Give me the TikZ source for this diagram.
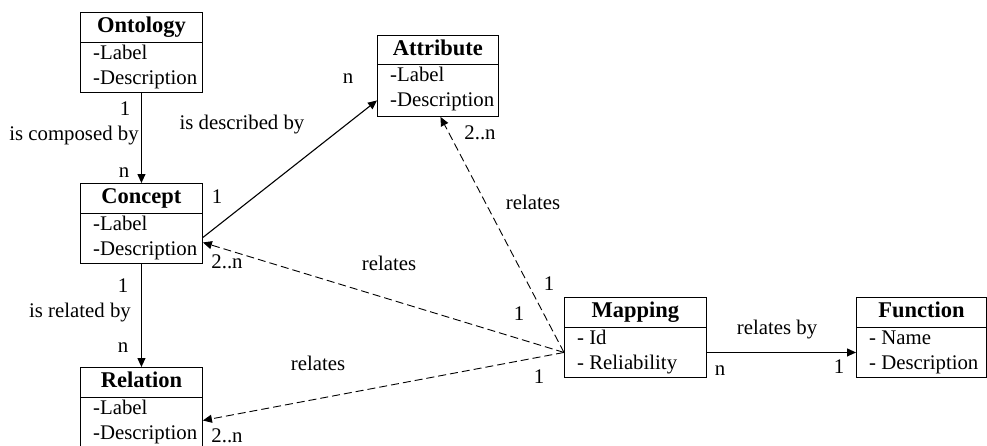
\documentclass[tikz,border=0pt]{standalone}
\usepackage{fontspec}
\setmainfont{Liberation Serif}
\usetikzlibrary{arrows.meta}
\tikzset{
  cls/.style={draw, line width=0.9pt, inner sep=0pt, anchor=north west},
  clstitle/.style={font=\fontsize{22.5}{23}\selectfont\bfseries, inner sep=0pt, text height=15pt, text depth=4pt},
  clsattr/.style={font=\fontsize{20.8}{21}\selectfont, inner sep=0pt, anchor=west, text height=14pt, text depth=4pt},
  lbl/.style={font=\fontsize{20.8}{21}\selectfont, inner sep=0pt, text height=14pt, text depth=4pt},
  assoc/.style={line width=1.1pt, -{Triangle[length=9pt,width=8pt]}},
  dep/.style={line width=0.9pt, dash pattern=on 8pt off 4pt, -{Triangle[length=9pt,width=8pt]}}
}
% name, x, y, width, height, header height, title, line1, line2
\newcommand\umlclass[9]{%
  \node[cls, minimum width=#4pt, minimum height=#5pt] (#1) at (#2,#3) {};
  \draw[line width=0.9pt] ([yshift=-#6pt]#1.north west) -- ([yshift=-#6pt]#1.north east);
  \node[clstitle] (#1-t) at ([yshift=-#6pt/2]#1.north) {#7};
  \node[clsattr] (#1-a) at ([xshift=13pt,yshift=-#6pt-12.5pt]#1.north west) {#8};
  \node[clsattr] (#1-b) at ([xshift=13pt,yshift=-#6pt-37.5pt]#1.north west) {#9};
}
\begin{document}
\begin{tikzpicture}[x=1pt,y=-1pt]
\useasboundingbox (0,0) rectangle (987,445);
\umlclass{onto}{80}{12}{122}{80}{30}{Ontology}{-Label}{-Description}
\umlclass{concept}{80}{183}{122}{80}{30}{Concept}{-Label}{-Description}
\umlclass{relation}{80}{367}{122}{80}{30}{Relation}{-Label}{-Description}
\umlclass{attribute}{377}{35}{121}{81}{29}{Attribute}{-Label}{-Description}
\umlclass{mapping}{564}{297}{142}{80}{30}{Mapping}{- Id}{- Reliability}
\umlclass{function}{856}{297}{130}{80}{30}{Function}{- Name}{- Description}

% solid associations
\draw[assoc] (onto.south) -- (concept.north);
\draw[assoc] (concept.south) -- (relation.north);
\draw[assoc] ([yshift=-14pt]concept.east) -- ([yshift=-24.5pt]attribute.west);
\draw[assoc] ([yshift=-15pt]mapping.east) -- ([yshift=-15pt]function.west);

% dashed relations
\coordinate (mapL) at ([yshift=-15pt]mapping.west);
\draw[dep] (mapL) -- ([xshift=2.5pt]attribute.south);
\draw[dep] (mapL) -- ([yshift=-19pt]concept.east);
\draw[dep] (mapL) -- ([yshift=-13pt]relation.east);

% labels
\node[lbl] (l1) at (125,110) {1};
\node[lbl] (l2) at (74,135) {is composed by};
\node[lbl] (l3) at (124,172) {n};
\node[lbl] (l4) at (123,287) {1};
\node[lbl] (l5) at (80,312) {is related by};
\node[lbl] (l6) at (123,347) {n};
\node[lbl] (l7) at (217,198) {1};
\node[lbl] (l8) at (348,78) {n};
\node[lbl] (l9) at (242,124) {is described by};
\node[lbl] (l10) at (480,134) {2..n};
\node[lbl] (l11) at (533,204) {relates};
\node[lbl] (l12) at (549,285) {1};
\node[lbl] (l13) at (519,315) {1};
\node[lbl] (l14) at (389,265) {relates};
\node[lbl] (l15) at (227,263) {2..n};
\node[lbl] (l16) at (318,365) {relates};
\node[lbl] (l17) at (227,437) {2..n};
\node[lbl] (l18) at (539,378) {1};
\node[lbl] (l19) at (777,329) {relates by};
\node[lbl] (l20) at (720,370) {n};
\node[lbl] (l21) at (839,368) {1};
\end{tikzpicture}
\end{document}
